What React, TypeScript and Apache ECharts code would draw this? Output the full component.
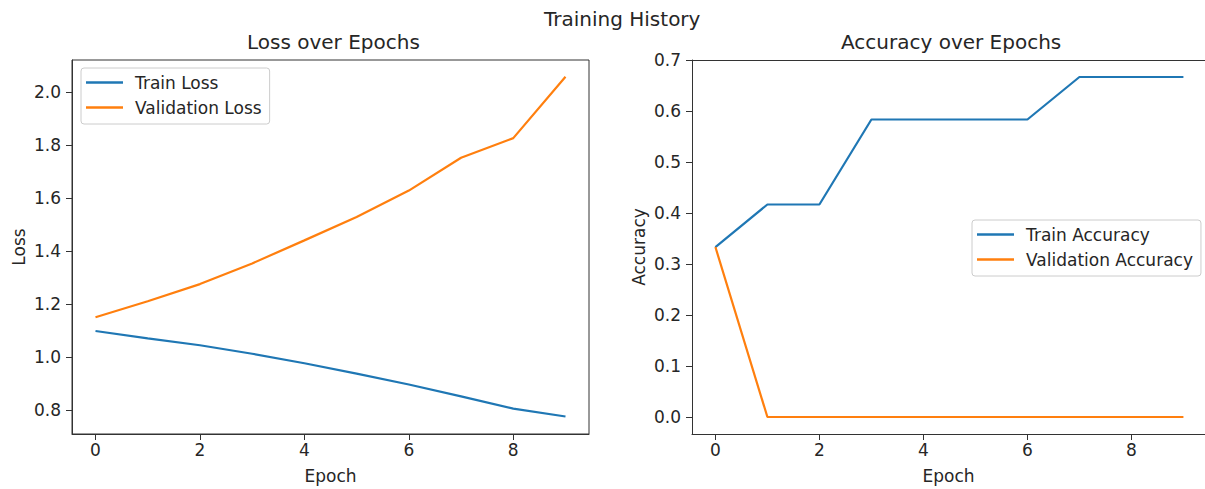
import React, { useEffect, useRef } from "react";
import * as echarts from "echarts";

const epochs = [0, 1, 2, 3, 4, 5, 6, 7, 8, 9];
const trainLoss = [1.098, 1.07, 1.044, 1.012, 0.976, 0.937, 0.896, 0.851, 0.805, 0.775];
const valLoss = [1.15, 1.21, 1.275, 1.353, 1.44, 1.528, 1.628, 1.752, 1.826, 2.058];
const trainAcc = [0.3333, 0.4167, 0.4167, 0.5833, 0.5833, 0.5833, 0.5833, 0.6667, 0.6667, 0.6667];
const valAcc = [0.3333, 0, 0, 0, 0, 0, 0, 0, 0, 0];
const xTicks = [0, 2, 4, 6, 8];
const lossTicks = [0.8, 1.0, 1.2, 1.4, 1.6, 1.8, 2.0];
const accTicks = [0.0, 0.1, 0.2, 0.3, 0.4, 0.5, 0.6, 0.7];

const BLUE = "#1f77b4";
const ORANGE = "#ff7f0e";
const TXT = "#262626";
const FONT = "DejaVu Sans";

const pairs = (ys: number[]) => epochs.map((e, i) => [e, ys[i]]);

export default function App() {
  const ref = useRef<HTMLDivElement>(null);
  useEffect(() => {
    if (!ref.current) return;
    const chart = echarts.init(ref.current, undefined, { renderer: "svg" });
    const xAxisBase = (gridIndex: number, max: number) => ({
      type: "value",
      gridIndex,
      min: -0.45,
      max,
      name: "Epoch",
      nameLocation: "middle",
      nameGap: 33,
      nameTextStyle: { color: TXT, fontSize: 17, fontFamily: FONT },
      axisLine: { show: true, onZero: false, lineStyle: { color: "#333", width: 1 } },
      axisTick: { show: true, length: 6, lineStyle: { color: "#333", width: 1 }, customValues: xTicks },
      axisLabel: { color: TXT, fontSize: 17, fontFamily: FONT, margin: 7, customValues: xTicks, formatter: (v: number) => String(v) },
      splitLine: { show: false },
    });
    const yAxisBase = (gridIndex: number, min: number, max: number, name: string, ticks: number[]) => ({
      type: "value",
      gridIndex,
      min,
      max,
      name,
      nameLocation: "middle",
      nameGap: 45,
      nameTextStyle: { color: TXT, fontSize: 17, fontFamily: FONT },
      axisLine: { show: true, onZero: false, lineStyle: { color: "#333", width: 1 } },
      axisTick: { show: true, length: 6, lineStyle: { color: "#333", width: 1 }, customValues: ticks },
      axisLabel: { color: TXT, fontSize: 17, fontFamily: FONT, margin: 11, customValues: ticks, formatter: (v: number) => v.toFixed(1) },
      splitLine: { show: false },
    });
    const legendBase = {
      orient: "vertical",
      padding: [5, 8, 7, 5],
      itemGap: 6,
      itemWidth: 37,
      itemHeight: 2.5,
      icon: "rect",
      backgroundColor: "rgba(255,255,255,0.8)",
      borderColor: "#cccccc",
      borderWidth: 1,
      borderRadius: 3,
      textStyle: { color: TXT, fontSize: 17, fontFamily: FONT, lineHeight: 19, padding: [0, 0, 0, 7] },
    };
    const titleStyle = { color: TXT, fontSize: 20, fontWeight: "normal", fontFamily: FONT };
    const option: any = {
      animation: false,
      backgroundColor: "#ffffff",
      title: [
        { text: "Training History", left: 539, top: 4, textStyle: titleStyle },
        { text: "Loss over Epochs", left: 242, top: 27, textStyle: titleStyle },
        { text: "Accuracy over Epochs", left: 836, top: 27, textStyle: titleStyle },
      ],
      grid: [
        { left: 72, top: 60, width: 517, height: 376, show: true, borderColor: "#333", borderWidth: 1, backgroundColor: "transparent" },
        { left: 692, top: 60, width: 513, height: 376, show: false },
      ],
      xAxis: [
        xAxisBase(0, 9.45),
        xAxisBase(1, 9.415),
        {
          type: "value",
          gridIndex: 1,
          position: "top",
          min: 0,
          max: 1,
          axisLine: { show: true, onZero: false, lineStyle: { color: "#333", width: 1 } },
          axisTick: { show: false },
          axisLabel: { show: false },
          splitLine: { show: false },
        },
      ],
      yAxis: [
        yAxisBase(0, 0.709, 2.121, "Loss", lossTicks),
        yAxisBase(1, -0.0333, 0.7, "Accuracy", accTicks),
      ],
      legend: [
        { ...legendBase, data: ["Train Loss", "Validation Loss"], left: 81, top: 68 },
        { ...legendBase, data: ["Train Accuracy", "Validation Accuracy"], left: 972, top: 220 },
      ],
      series: [
        { name: "Train Loss", type: "line", xAxisIndex: 0, yAxisIndex: 0, data: pairs(trainLoss), showSymbol: false, symbol: "none", color: BLUE, lineStyle: { width: 2.2, color: BLUE } },
        { name: "Validation Loss", type: "line", xAxisIndex: 0, yAxisIndex: 0, data: pairs(valLoss), showSymbol: false, symbol: "none", color: ORANGE, lineStyle: { width: 2.2, color: ORANGE } },
        { name: "Train Accuracy", type: "line", xAxisIndex: 1, yAxisIndex: 1, data: pairs(trainAcc), showSymbol: false, symbol: "none", color: BLUE, lineStyle: { width: 2.2, color: BLUE } },
        { name: "Validation Accuracy", type: "line", xAxisIndex: 1, yAxisIndex: 1, data: pairs(valAcc), showSymbol: false, symbol: "none", color: ORANGE, lineStyle: { width: 2.2, color: ORANGE } },
      ],
    };
    chart.setOption(option);
    return () => chart.dispose();
  }, []);
  return <div ref={ref} style={{ position: "fixed", left: 0, top: 0, width: 1205, height: 489 }} />;
}
